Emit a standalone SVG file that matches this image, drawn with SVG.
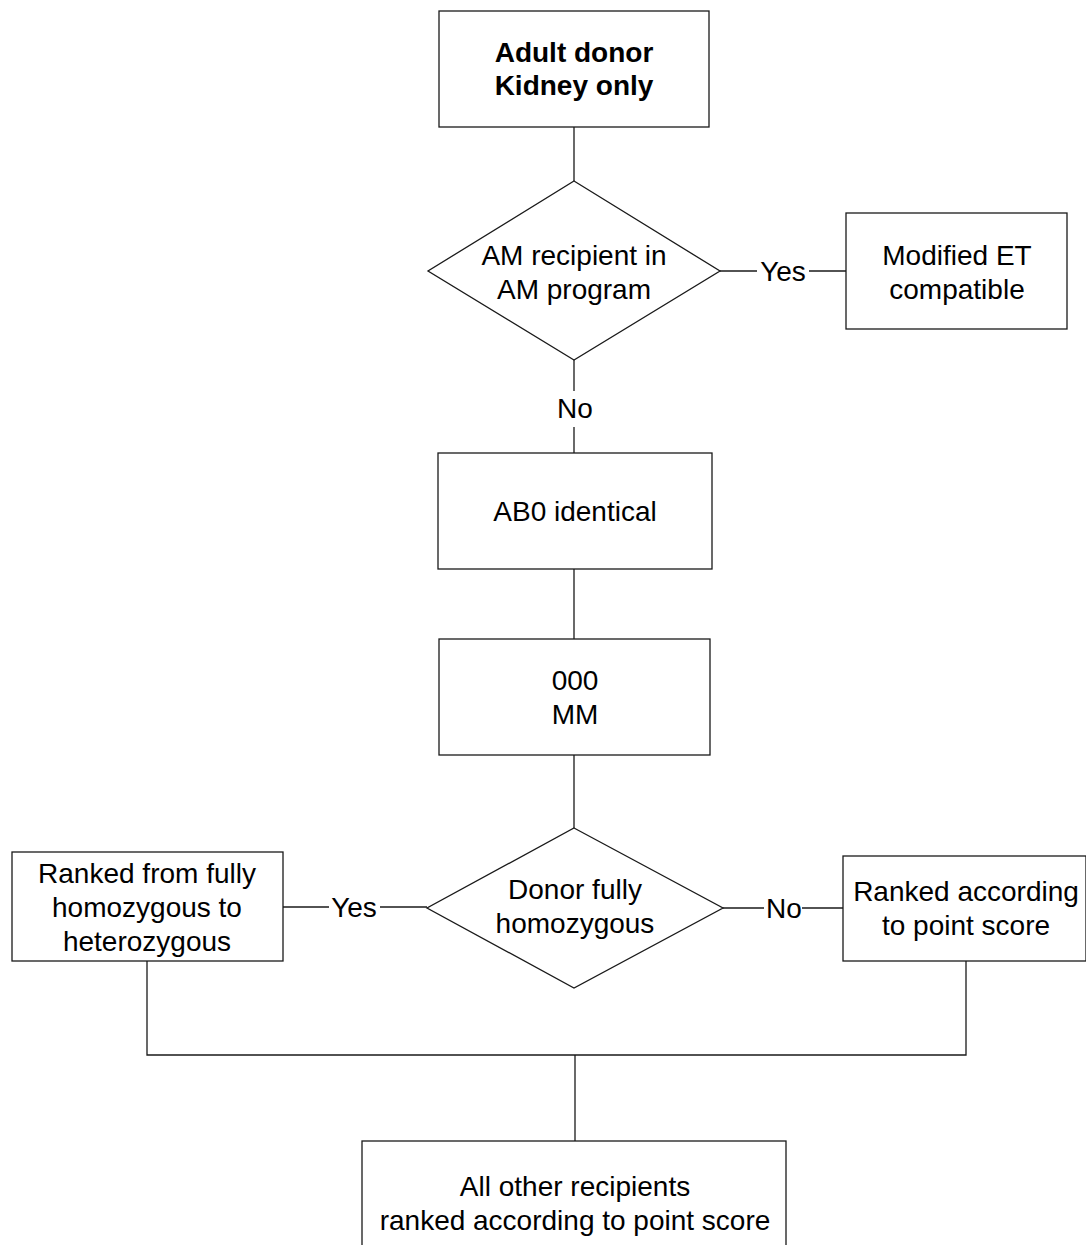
<svg xmlns="http://www.w3.org/2000/svg" width="1086" height="1245" viewBox="0 0 1086 1245">
<style>
.n{fill:#fff;stroke:#1a1a1a;stroke-width:1.3}
.c{fill:none;stroke:#1a1a1a;stroke-width:1.3}
text{font-family:"Liberation Sans",Arial,sans-serif;font-size:28px;fill:#000;text-anchor:middle}
.b{font-weight:bold}
</style>
<rect width="1086" height="1245" fill="#fff"/>
<g id="connectors">
<line class="c" x1="574" y1="127" x2="574" y2="181"/>
<line class="c" x1="720" y1="271" x2="757" y2="271"/>
<line class="c" x1="809" y1="271" x2="846" y2="271"/>
<line class="c" x1="574" y1="360" x2="574" y2="391"/>
<line class="c" x1="574" y1="427" x2="574" y2="453"/>
<line class="c" x1="574" y1="569" x2="574" y2="639"/>
<line class="c" x1="574" y1="755" x2="574" y2="828"/>
<line class="c" x1="283" y1="907" x2="329" y2="907"/>
<line class="c" x1="380" y1="907" x2="427" y2="907"/>
<line class="c" x1="723" y1="908" x2="764" y2="908"/>
<line class="c" x1="802" y1="908" x2="843" y2="908"/>
<polyline class="c" points="147,961 147,1055 966,1055 966,961"/>
<line class="c" x1="575" y1="1055" x2="575" y2="1141"/>
<text x="783" y="281">Yes</text>
<text x="575" y="418">No</text>
<text x="354" y="917">Yes</text>
<text x="784" y="918">No</text>
</g>
<g id="start">
<rect class="n" x="439" y="11" width="270" height="116"/>
<text class="b" x="574" y="62">Adult donor</text>
<text class="b" x="574" y="95">Kidney only</text>
</g>
<g id="am-decision">
<polygon class="n" points="574,181 720,271 574,360 428,271"/>
<text x="574" y="265">AM recipient in</text>
<text x="574" y="299">AM program</text>
</g>
<g id="modified-et">
<rect class="n" x="846" y="213" width="221" height="116"/>
<text x="957" y="265">Modified ET</text>
<text x="957" y="299">compatible</text>
</g>
<g id="ab0">
<rect class="n" x="438" y="453" width="274" height="116"/>
<text x="575" y="521">AB0 identical</text>
</g>
<g id="mm">
<rect class="n" x="439" y="639" width="271" height="116"/>
<text x="575" y="690">000</text>
<text x="575" y="724">MM</text>
</g>
<g id="homozygous-decision">
<polygon class="n" points="574,828 723,908 574,988 427,908"/>
<text x="575" y="899">Donor fully</text>
<text x="575" y="933">homozygous</text>
</g>
<g id="ranked-homozygous">
<rect class="n" x="12" y="852" width="271" height="109"/>
<text x="147" y="883">Ranked from fully</text>
<text x="147" y="917">homozygous to</text>
<text x="147" y="951">heterozygous</text>
</g>
<g id="ranked-score">
<rect class="n" x="843" y="856" width="243" height="105"/>
<text x="966" y="901">Ranked according</text>
<text x="966" y="935">to point score</text>
</g>
<g id="all-other">
<rect class="n" x="362" y="1141" width="424" height="120"/>
<text x="575" y="1196">All other recipients</text>
<text x="575" y="1230">ranked according to point score</text>
</g>
</svg>
